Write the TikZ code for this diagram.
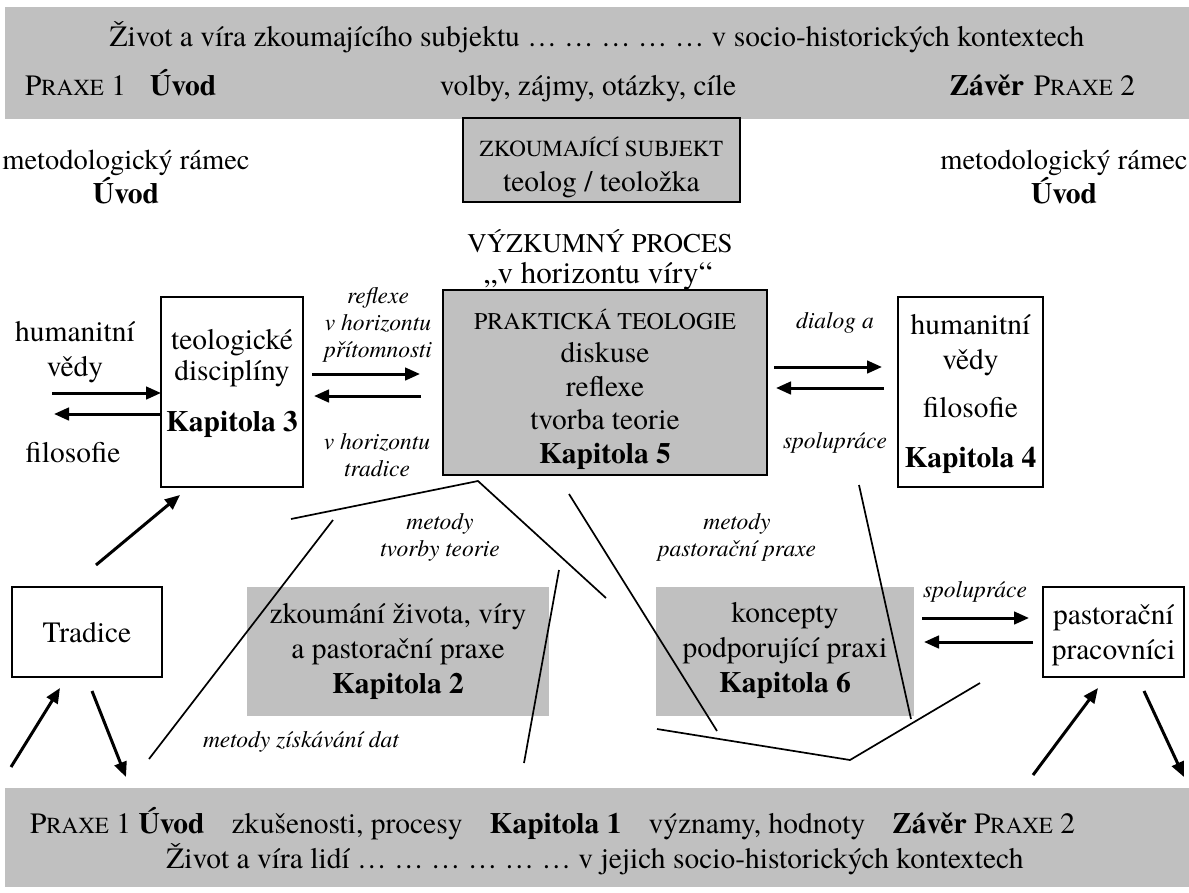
\documentclass[tikz,border=0pt]{standalone}
\usepackage{fontspec}
\setmainfont{texgyretermes}[Extension=.otf,UprightFont=*-regular,BoldFont=*-bold,ItalicFont=*-italic,BoldItalicFont=*-bolditalic]
\usetikzlibrary{arrows.meta}
\definecolor{bandgrey}{HTML}{C0C0C0}
\newcommand\fs[2]{\fontsize{#1}{#2}\selectfont}
\newcommand\smc[1]{{\fontsize{23}{23}\selectfont #1}}
\newcommand\praxe[1]{P\smc{RAXE} #1}
\begin{document}
\begin{tikzpicture}[x=1pt,y=-1pt,
  every node/.style={inner sep=0pt, outer sep=0pt},
  band/.style={fill=bandgrey},
  panel/.style={fill=bandgrey},
  gbox/.style={draw, line width=1.8pt, fill=bandgrey},
  wbox/.style={draw, line width=1.8pt, fill=white},
  txt/.style={font=\fs{29.5}{35}, align=center},
  lbl/.style={font=\fs{23.5}{27}\itshape, align=center},
  arr/.style={line width=3pt, -{Triangle[length=15pt,width=12.5pt]}},
  ln/.style={line width=1.7pt}]
\useasboundingbox (0,0) rectangle (1189,892);

% top band
\node[band, minimum width=1184pt, minimum height=112pt] (topband) at (597,63) {};
\node[txt, anchor=base] (top1) at (597,46) {Život a víra zkoumajícího subjektu … … … … … v socio-historických kontextech};
\node[txt, anchor=base west] (top2l) at (25,95) {\praxe{1}\hspace{24pt}\textbf{Úvod}};
\node[txt, anchor=base] (top2c) at (588,95) {volby, zájmy, otázky, cíle};
\node[txt, anchor=base east] (top2r) at (1135,95) {\textbf{Závěr}\hspace{10pt}\praxe{2}};

% researcher box
\node[gbox, minimum width=277pt, minimum height=84pt] (subj) at (601.5,160) {};
\node[font=\fs{23}{26}, anchor=base] (subj1) at (601.5,156) {ZKOUMAJÍCÍ SUBJEKT};
\node[txt, anchor=base] (subj2) at (601.5,191) {teolog / teoložka};

% methodological frame
\node[txt, font=\fs{28.5}{34}, anchor=base] (mrL1) at (126,169) {metodologický rámec};
\node[txt, anchor=base] (mrL2) at (126,203) {\textbf{Úvod}};
\node[txt, font=\fs{28.5}{34}, anchor=base] (mrR1) at (1064,169) {metodologický rámec};
\node[txt, anchor=base] (mrR2) at (1064,203) {\textbf{Úvod}};

% research process
\node[font=\fs{27}{30}, anchor=base] (vp1) at (600,252) {VÝZKUMNÝ PROCES};
\node[font=\fs{31}{34}, anchor=base] (vp2) at (598,283) {„v horizontu víry“};

% practical theology
\node[gbox, minimum width=324pt, minimum height=185pt] (k5) at (605,382.5) {};
\node[txt, font=\fs{29.5}{33.5}] (k5t) at (605,389) {{\fs{24}{33.5}PRAKTICKÁ TEOLOGIE}\\diskuse\\reflexe\\tvorba teorie\\\textbf{Kapitola 5}};

% theological disciplines
\node[wbox, minimum width=142pt, minimum height=190pt] (k3) at (232,392) {};
\node[txt, font=\fs{29.5}{31}] (k3t) at (232,383) {teologické\\disciplíny\\[20pt]\textbf{Kapitola 3}};

% humanities box
\node[wbox, minimum width=145pt, minimum height=190pt] (k4) at (970.5,392) {};
\node[txt] (k4t) at (970.5,394) {humanitní\\vědy\\[13pt]filosofie\\[15pt]\textbf{Kapitola 4}};

% left texts
\node[txt] (hum) at (75,352) {humanitní\\vědy};
\node[txt] (fil) at (73,453) {filosofie};

% labels between boxes
\node[lbl] (refl) at (378,325) {reflexe\\v horizontu\\přítomnosti};
\node[lbl] (trad) at (377,455) {v horizontu\\tradice};
\node[lbl] (dial) at (835,323) {dialog a};
\node[lbl] (spol1) at (835,443) {spolupráce};

% lower boxes
\node[wbox, minimum width=150pt, minimum height=90pt] (trd) at (87,632) {};
\node[txt] (trdt) at (87,633) {Tradice};
\node[panel, minimum width=302pt, minimum height=129pt] (k2) at (398,651.5) {};
\node[panel, minimum width=258pt, minimum height=129pt] (k6) at (785,651.5) {};
\node[wbox, minimum width=141pt, minimum height=90pt] (pas) at (1113.5,632) {};
\node[txt] (past) at (1113.5,635) {pastorační\\pracovníci};

% bottom band
\node[band, minimum width=1184pt, minimum height=99pt] (botband) at (597,837.5) {};
\node[txt, anchor=base west] (bot1) at (30,833) {\praxe{1} \textbf{Úvod}\hspace{27pt}zkušenosti, procesy\hspace{27pt}\textbf{Kapitola 1}\hspace{27pt}významy, hodnoty\hspace{27pt}\textbf{Závěr} \praxe{2}};
\node[txt, anchor=base] (bot2) at (595,868) {Život a víra lidí … … … … … … v jejich socio-historických kontextech};

% connector lines
\coordinate (apL) at (291,519);
\coordinate (apex) at (478,481);
\coordinate (apR) at (606,598);
\coordinate (l1s) at (333,520);
\coordinate (l1e) at (149,759);
\coordinate (l2s) at (559,570);
\coordinate (l2e) at (524,763);
\coordinate (l3s) at (569,494);
\coordinate (l3e) at (717,731);
\coordinate (l4s) at (859,485);
\coordinate (l4e) at (911,719);
\coordinate (p1) at (657,729);
\coordinate (p2) at (850,760);
\coordinate (p3) at (980,683);
\draw[ln] (apL) -- (apex) -- (apR);
\draw[ln] (l1s) -- (l1e);
\draw[ln] (l2s) -- (l2e);
\draw[ln] (l3s) -- (l3e);
\draw[ln] (l4s) -- (l4e);
\draw[ln] (p1) -- (p2) -- (p3);

% panel texts (over lines)
\node[txt] (k2t) at (398,651) {zkoumání života, víry\\a pastorační praxe\\\textbf{Kapitola 2}};
\node[txt] (k6t) at (785,650) {koncepty\\podporující praxi\\\textbf{Kapitola 6}};

% method labels
\node[lbl] (mtt) at (440,537) {metody\\tvorby teorie};
\node[lbl] (mpp) at (737,537) {metody\\pastorační praxe};
\node[lbl] (mzd) at (301,742) {metody získávání dat};
\node[lbl] (spol2) at (975,592) {spolupráce};

% arrows
\coordinate (hR1) at (52,393);
\coordinate (hR2) at (54,414);
\draw[arr] (hR1) -- (hR1 -| k3.west);
\draw[arr] (hR2 -| k3.west) -- (hR2);
\coordinate (ml1s) at (312,374);
\coordinate (ml1e) at (420,374);
\coordinate (ml2s) at (421,396);
\coordinate (ml2e) at (314,396);
\draw[arr] (ml1s) -- (ml1e);
\draw[arr] (ml2s) -- (ml2e);
\coordinate (mr1s) at (774,367);
\coordinate (mr1e) at (882,367);
\coordinate (mr2s) at (884,388);
\coordinate (mr2e) at (776,388);
\draw[arr] (mr1s) -- (mr1e);
\draw[arr] (mr2s) -- (mr2e);
\coordinate (br1s) at (922,618);
\coordinate (br1e) at (1029,618);
\coordinate (br2s) at (1033,642);
\coordinate (br2e) at (924,642);
\draw[arr] (br1s) -- (br1e);
\draw[arr] (br2s) -- (br2e);
\coordinate (t3s) at (96,565);
\coordinate (t3e) at (180,495);
\draw[arr] (t3s) -- (t3e);
\coordinate (btS) at (11,767);
\coordinate (btE) at (60,688);
\draw[arr] (btS) -- (btE);
\coordinate (tbS) at (92,691);
\coordinate (tbE) at (126,777);
\draw[arr] (tbS) -- (tbE);
\coordinate (bpS) at (1033,775);
\coordinate (bpE) at (1098,688);
\draw[arr] (bpS) -- (bpE);
\coordinate (pbS) at (1144,691);
\coordinate (pbE) at (1184,777);
\draw[arr] (pbS) -- (pbE);
\end{tikzpicture}
\end{document}
